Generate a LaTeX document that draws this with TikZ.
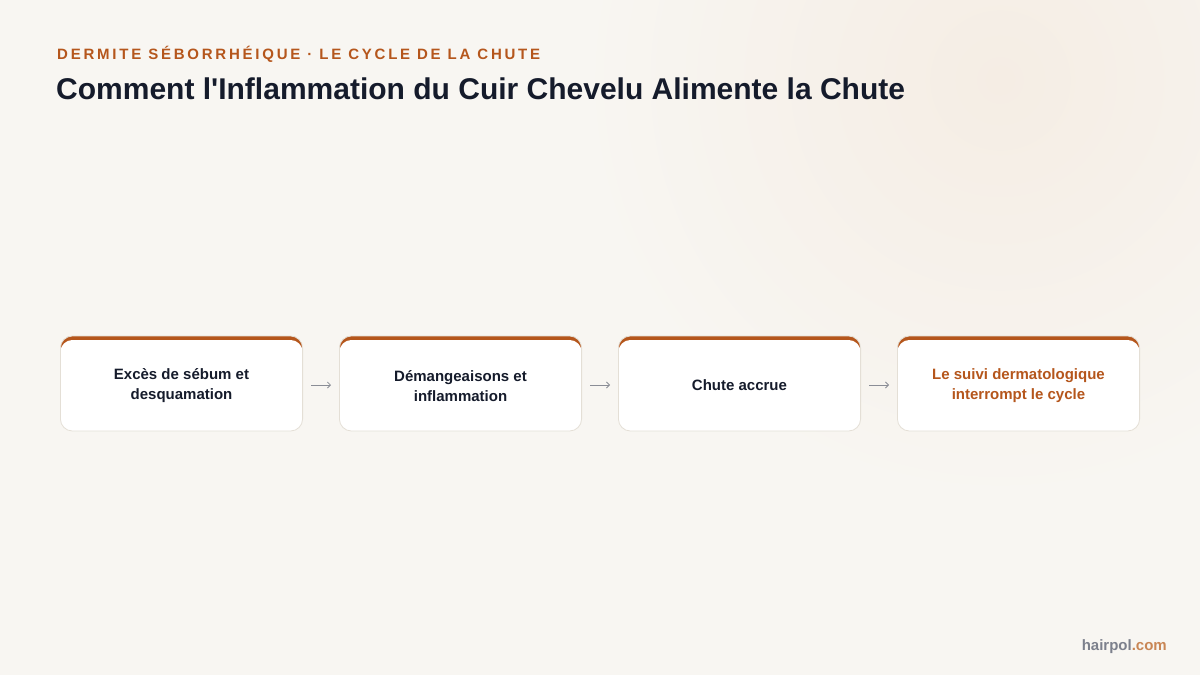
\documentclass[tikz,border=0pt]{standalone}
\usepackage{fontspec}
\setmainfont{Liberation Sans}
\newfontfamily\kickerfont[LetterSpace=18.5]{Liberation Sans}
\usetikzlibrary{arrows.meta,positioning}
\definecolor{bgcol}{HTML}{F8F6F2}
\definecolor{warmcol}{HTML}{F5EDE4}
\definecolor{rust}{HTML}{B5561C}
\definecolor{ink}{HTML}{151B2B}
\definecolor{edgecol}{HTML}{E4DFD6}
\definecolor{arrowcol}{HTML}{8A8D96}
\definecolor{greycol}{HTML}{7C808C}
\definecolor{comcol}{HTML}{C98655}

\tikzset{
  stepbox/.style={draw=edgecol, line width=0.8pt, fill=white, rounded corners=12pt,
    minimum width=242.2pt, minimum height=95pt, inner sep=0pt,
    path picture={
      \fill[rust] (path picture bounding box.north west) rectangle
        ([yshift=-20pt]path picture bounding box.north east);
      \fill[white] ([yshift=-4pt]path picture bounding box.north west) rectangle
        (path picture bounding box.south east);}},
  steptext/.style={align=center, inner sep=0pt, font=\fontsize{15}{20}\selectfont\bfseries, text=ink},
  flow/.style={->, >={Straight Barb[length=3pt,width=6pt]}, arrowcol, line width=0.8pt,
    shorten <=8pt, shorten >=8pt}
}

\begin{document}
\begin{tikzpicture}[x=1pt, y=-1pt]

    \useasboundingbox (0,0) rectangle (1200,675);
    \fill[bgcol] (0,0) rectangle (1200,675);
    \begin{scope}
      \clip (0,0) rectangle (1200,675);
      \shade[inner color=warmcol, outer color=bgcol] (1000,80) circle (420pt);
    \end{scope}

    \node[anchor=base west, inner sep=0pt, text=rust, font=\kickerfont\bfseries\fontsize{15}{18}\selectfont]
      (kicker) at (57,59) {DERMITE SÉBORRHÉIQUE · LE CYCLE DE LA CHUTE};
    \node[anchor=base west, inner sep=0pt, text=ink, font=\fontsize{30}{34}\selectfont\bfseries]
      (title) at (56,99) {Comment l\textquotesingle Inflammation du Cuir Chevelu Alimente la Chute};

    \node[stepbox] (s1) at (181.5,383.5) {};
    \node[stepbox, right=36pt of s1] (s2) {};
    \node[stepbox, right=36pt of s2] (s3) {};
    \node[stepbox, right=36pt of s3] (s4) {};

    \node[steptext] (t1) at ([yshift=-2.5pt]s1.center) {Excès de sébum et\\desquamation};
    \node[steptext] (t2) at ([yshift=-2.5pt]s2.center) {Démangeaisons et\\inflammation};
    \node[steptext] (t3) at ([yshift=-2pt]s3.center) {Chute accrue};
    \node[steptext, text=rust] (t4) at ([yshift=-2.5pt]s4.center) {Le suivi dermatologique\\interrompt le cycle};

    \draw[flow] ([yshift=-1.5pt]s1.east) -- ([yshift=-1.5pt]s2.west);
    \draw[flow] ([yshift=-1.5pt]s2.east) -- ([yshift=-1.5pt]s3.west);
    \draw[flow] ([yshift=-1.5pt]s3.east) -- ([yshift=-1.5pt]s4.west);

    \node[anchor=base east, inner sep=0pt, font=\fontsize{15}{18}\selectfont\bfseries]
      (site) at (1167,650) {\textcolor{greycol}{hairpol}\textcolor{comcol}{.com}};

\end{tikzpicture}
\end{document}
